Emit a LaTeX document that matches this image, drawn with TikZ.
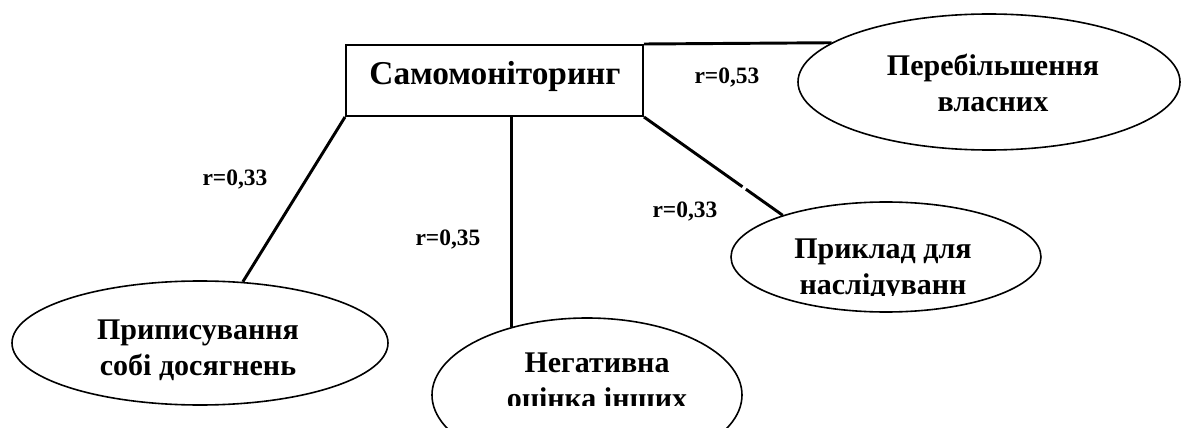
\documentclass[tikz,border=0pt]{standalone}
\usepackage{fontspec}
\setmainfont{Liberation Serif}
\usetikzlibrary{shapes.geometric,calc}
\begin{document}
\begin{tikzpicture}[x=0.75pt,y=-0.75pt,
  oval/.style={ellipse,draw,line width=1.2pt,inner sep=0pt,fill=white},
  link/.style={line width=2.2pt},
  lbl/.style={font=\fontsize{17.6}{21}\selectfont\bfseries,inner sep=0pt},
  etext/.style={font=\fontsize{22.5}{27}\selectfont\bfseries,align=center,inner sep=0pt},
]
\useasboundingbox (0,0) rectangle (1183,428);
\clip (0,0) rectangle (1183,428);
% central box
\node[draw,line width=1.5pt,minimum width=222.75pt,minimum height=53.25pt,inner sep=0pt] (box) at (494.5,80.5) {};
\node[font=\fontsize{25}{30}\selectfont\bfseries,inner sep=0pt] (boxt) at (495,76) {Самомоніторинг};
% ellipses
\node[oval,minimum width=282pt,minimum height=93pt] (left) at (200,343) {};
\node[oval,minimum width=232.5pt,minimum height=115.5pt] (mid) at (587,395) {};
\node[oval,minimum width=232.5pt,minimum height=82.5pt] (right) at (886,257) {};
\node[oval,minimum width=286.5pt,minimum height=102pt] (per) at (989,82) {};
% connectors
\draw[link] (box.south west) -- (left.55);
\draw[link] (mid.138.5 |- box.south) -- (mid.138.5);
\draw[link] (box.south east) -- ($(box.south east)!0.71!(right.158.7)$);
\draw[link] ($(box.south east)!0.735!(right.158.7)$) -- (right.158.7);
\draw[link] (box.north east) -- (per.166.3);
% ellipse texts
\node[etext] (pert) at (993,83) {Перебільшення\\власних};
\node[etext] (leftt) at (198,350) {Приписування\\собі досягнень};
\begin{scope}
\clip (400,300) rectangle (800,405);
\node[etext] (midt) at (597,383) {Негативна\\оцінка інших};
\end{scope}
\begin{scope}
\clip (700,150) rectangle (1100,295);
\node[etext] (rightt) at (883,270) {Приклад для\\наслідуванн};
\end{scope}
% labels
\node[lbl] (l1) at (235,180) {r=0,33};
\node[lbl] (l2) at (448,240) {r=0,35};
\node[lbl] (l3) at (685,212) {r=0,33};
\node[lbl] (l4) at (727,78) {r=0,53};
\end{tikzpicture}
\end{document}
